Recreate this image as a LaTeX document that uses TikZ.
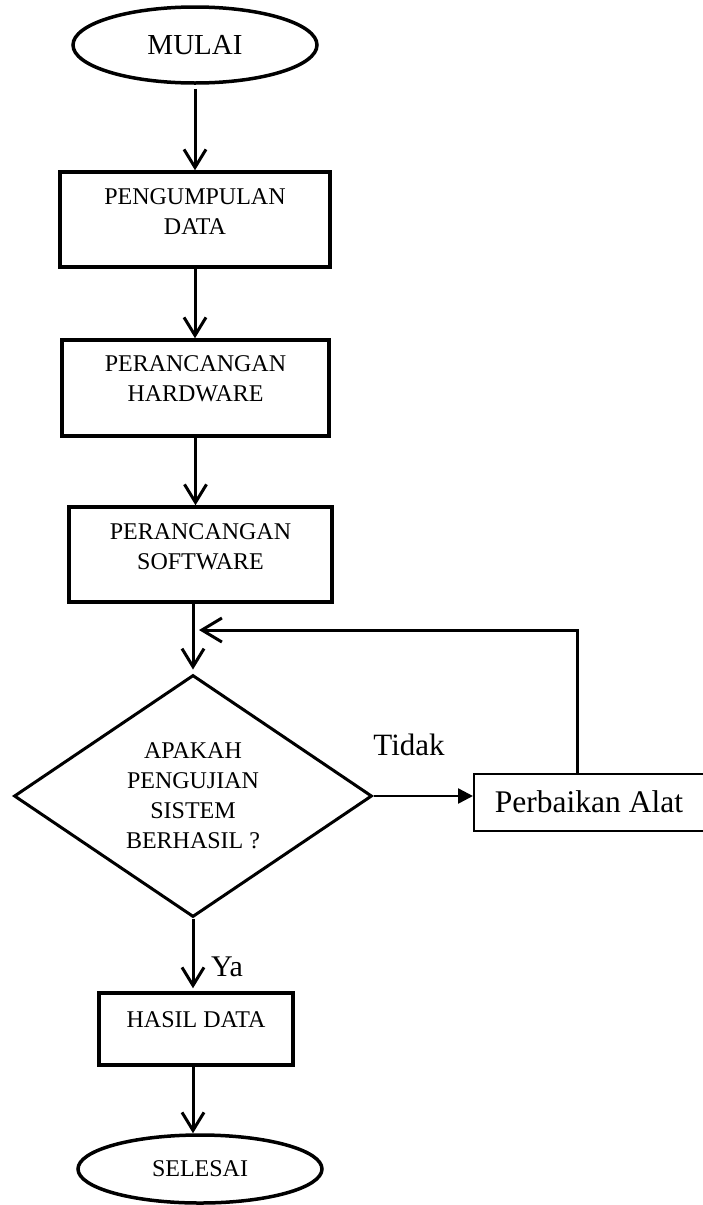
\documentclass[tikz,border=0pt]{standalone}
\usepackage{fontspec}
\setmainfont{Liberation Serif}
\usetikzlibrary{shapes.geometric,arrows.meta}
\begin{document}
\begin{tikzpicture}[x=1pt,y=-1pt,
  term/.style={ellipse, draw, line width=3.5pt, inner sep=0pt},
  procbox/.style={rectangle, draw, line width=3.5pt, inner sep=0pt},
  boxtext/.style={anchor=north, inner sep=0pt, align=center, font=\fontsize{24}{30}\selectfont},
  flow/.style={line width=3pt, -{Straight Barb[length=18pt, width=22pt]}},
  lbl/.style={inner sep=0pt, font=\fontsize{31}{36}\selectfont},
]
\useasboundingbox (0,0) rectangle (702,1205);
% terminals and process boxes
\node[term, minimum width=244pt, minimum height=76pt, font=\fontsize{29}{34}\selectfont] (mulai) at (195,45) {MULAI};
\node[procbox, minimum width=270pt, minimum height=95pt] (b1) at (195,219.5) {};
\node[boxtext] (t1) at ([yshift=-18pt]b1.north) {PENGUMPULAN\\DATA};
\node[procbox, minimum width=267pt, minimum height=96pt] (b2) at (195.5,388) {};
\node[boxtext] (t2) at ([yshift=-17pt]b2.north) {PERANCANGAN\\HARDWARE};
\node[procbox, minimum width=263pt, minimum height=95pt] (b3) at (200.5,554.5) {};
\node[boxtext] (t3) at ([yshift=-18pt]b3.north) {PERANCANGAN\\SOFTWARE};
% decision
\node[diamond, draw, line width=3pt, minimum width=358pt, minimum height=242pt, inner sep=0pt, align=center, font=\fontsize{24}{30}\selectfont] (dec) at (193,796) {APAKAH\\PENGUJIAN\\SISTEM\\BERHASIL ?};
\node[rectangle, draw, line width=2pt, minimum width=230pt, minimum height=57pt, inner sep=0pt, font=\fontsize{31.5}{36}\selectfont] (fix) at (589,802) {Perbaikan Alat};
\node[procbox, minimum width=194pt, minimum height=72pt] (hasil) at (196,1029) {};
\node[boxtext] (t4) at ([yshift=-20pt]hasil.north) {HASIL DATA};
\node[term, minimum width=244pt, minimum height=68pt, font=\fontsize{24}{30}\selectfont] (selesai) at (200,1169) {SELESAI};
% labels
\node[lbl] (tidak) at (409,745) {Tidak};
\node[lbl, font=\fontsize{30}{36}\selectfont] (ya) at (227,967) {Ya};
% connectors
\coordinate (loopc) at (577,630);
\draw[flow, shorten <=4pt] (mulai.south) -- (mulai.south |- b1.north);
\draw[flow] (b1.south) -- (b1.south |- b2.north);
\draw[flow] (b2.south) -- (b2.south |- b3.north);
\draw[flow, shorten >=4pt] (b3.south -| dec.north) -- (dec.north);
\draw[line width=2.5pt, -{Triangle[length=15pt, width=15pt]}] (dec.east) -- (dec.east -| fix.west);
\draw[line width=3pt, -{Straight Barb[length=20pt, width=24pt]}, shorten >=6pt] (loopc |- fix.north) -- (loopc) -- (loopc -| dec.north);
\draw[flow, shorten >=3pt] (dec.south) -- (dec.south |- hasil.north);
\draw[flow] (hasil.south -| dec.south) -- (dec.south |- selesai.north);
\end{tikzpicture}
\end{document}
